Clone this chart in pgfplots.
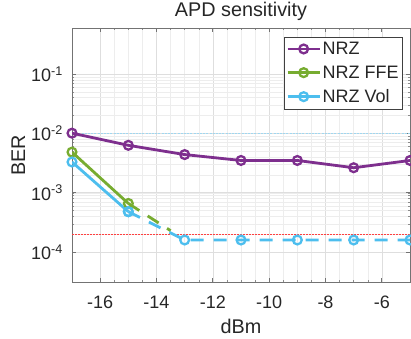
\documentclass[border=0pt]{standalone}
\usepackage{fontspec}
\setmainfont{Liberation Sans}
\usepackage{pgfplots}
\pgfplotsset{compat=1.18}
\definecolor{cP}{RGB}{126,47,142}
\definecolor{cG}{RGB}{119,172,48}
\definecolor{cB}{RGB}{77,190,238}
\definecolor{cL}{RGB}{160,215,240}
\definecolor{txt}{gray}{0.15}
\begin{document}
\begin{tikzpicture}[x=1bp,y=1bp]
\path[use as bounding box] (0,0) rectangle (411,339);
\begin{axis}[
  at={(72bp,56.7bp)}, anchor=south west,
  scale only axis, width=338bp, height=254bp,
  xmin=-17, xmax=-5, ymode=log, ymin=3.1e-5, ymax=0.59,
  xtick={-16,-14,-12,-10,-8,-6},
  minor x tick num=3,
  ytick={1e-4,1e-3,1e-2,1e-1},
  yticklabels={10\textsuperscript{-4},10\textsuperscript{-3},10\textsuperscript{-2},10\textsuperscript{-1}},
  /pgf/number format/assume math mode=true,
  xticklabel={\pgfmathprintnumber[assume math mode=true]{\tick}},
  grid=both,
  major grid style={black!13, line width=0.6bp},
  minor grid style={black!7, line width=0.5bp},
  axis line style={black!55, line width=0.7bp},
  major tick style={black!55, line width=0.7bp},
  minor tick style={black!45, line width=0.5bp},
  major tick length=4bp, minor tick length=2bp,
  tick align=inside,
  every tick label/.append style={font=\fontsize{18bp}{21bp}\selectfont, text=txt},
  xticklabel style={anchor=base, inner sep=0pt, yshift=-26bp},
  yticklabel style={anchor=east, inner sep=0pt, xshift=-9bp},
  title={APD sensitivity},
  title style={at={(axis description cs:0.5,1)}, anchor=base, yshift=5.6bp, font=\fontsize{19.8bp}{23bp}\selectfont, text=txt},
  xlabel={dBm},
  xlabel style={at={(axis description cs:0.5,0)}, anchor=base, yshift=-50.7bp, font=\fontsize{19.8bp}{23bp}\selectfont, text=txt},
  ylabel={BER},
  ylabel style={at={(axis description cs:-0.139,0.5)}, anchor=base, font=\fontsize{19.8bp}{23bp}\selectfont, text=txt},
  legend style={at={(axis description cs:0.627,0.967)}, anchor=north west,
    draw=black!75, line width=0.7bp, fill=white,
    font=\fontsize{18bp}{21bp}\selectfont, text=txt,
    inner xsep=2bp, inner ysep=3.5bp, row sep=6.8bp,
    nodes={inner xsep=1.5bp, inner ysep=1.5bp}},
  legend cell align=left,
  legend image code/.code={\draw[mark repeat=2,mark phase=2,#1] plot coordinates {(0bp,0bp) (16bp,0bp) (32bp,0bp)};},
  every axis plot/.append style={line width=2.8bp, mark=o, mark size=4.4bp, mark options={solid, line width=2.3bp}},
]
% reference lines
\addplot[forget plot, no marks, cL, line width=1.3bp, dash pattern=on 2bp off 1.2bp] coordinates {(-17,1e-2) (-5,1e-2)};
\addplot[forget plot, no marks, red!75, line width=0.9bp, dash pattern=on 1.5bp off 1.5bp] coordinates {(-17,2e-4) (-5,2e-4)};
% solid parts
\addplot[cP] coordinates {(-17,1.01e-2) (-15,6.3e-3) (-13,4.4e-3) (-11,3.5e-3) (-9,3.5e-3) (-7,2.64e-3) (-5,3.5e-3)};
\addlegendentry{NRZ}
\addplot[cG] coordinates {(-17,4.84e-3) (-15,6.6e-4)};
\addlegendentry{NRZ FFE}
\addplot[cB] coordinates {(-17,3.3e-3) (-15,4.8e-4)};
\addlegendentry{NRZ Vol}
% dashed parts
\addplot[forget plot, cG, no marks, dash pattern=on 13bp off 10bp] coordinates {(-15,6.6e-4) (-13.5,2.3e-4)};
\addplot[forget plot, cB, dash pattern=on 13bp off 10bp] coordinates {(-15,4.8e-4) (-13,1.6e-4) (-11,1.6e-4) (-9,1.6e-4) (-7,1.6e-4) (-5,1.6e-4)};
\end{axis}
\end{tikzpicture}
\end{document}
